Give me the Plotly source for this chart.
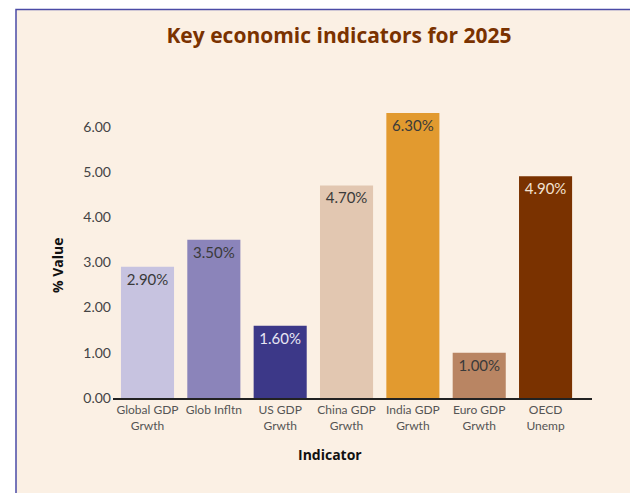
import plotly.graph_objects as go

categories = ["Global GDP<br>Grwth", "Glob Infltn", "US GDP<br>Grwth", "China GDP<br>Grwth",
              "India GDP<br>Grwth", "Euro GDP<br>Grwth", "OECD<br>Unemp"]
values = [2.90, 3.50, 1.60, 4.70, 6.30, 1.00, 4.90]
bar_colors = ["#c7c3e0", "#8b84ba", "#3c3888", "#e2c7b1", "#e29a2f", "#b98563", "#7a3200"]
label_colors = ["#3a3a3a", "#3a3a3a", "#e8e6f4", "#3a3a3a", "#3a3a3a", "#3a3a3a", "#f3e2d2"]
y_ticks = [0, 1, 2, 3, 4, 5, 6]

FONT = "Open Sans, Noto Sans, sans-serif"
TICKFONT = "Lato, Open Sans, sans-serif"

W, H = 630, 493
L, R = 113, 630 - 592
T, B = 104, 493 - 398
pw, ph = W - L - R, H - T - B

def px(x):
    return (x - L) / pw

def py(y):
    return (H - B - y) / ph

fig = go.Figure(go.Bar(
    x=list(range(len(categories))),
    y=values,
    marker=dict(color=bar_colors, line=dict(width=0)),
    text=[f"{v:.2f}%" for v in values],
    textposition="inside",
    insidetextanchor="end",
    textangle=0,
    textfont=dict(family=TICKFONT, size=15, color=label_colors),
    width=0.8,
))

fig.add_shape(type="rect", xref="paper", yref="paper",
              x0=px(16), x1=px(645), y0=py(510), y1=py(9.5),
              fillcolor="#fbf0e4", line=dict(color="#4b4ba6", width=1.5), layer="below")

fig.add_annotation(text="<b>% Value</b>", xref="paper", yref="paper",
                   x=px(57), y=py(265), textangle=-90, showarrow=False,
                   xanchor="center", yanchor="middle",
                   font=dict(family=FONT, size=14, color="#111111"))
fig.add_annotation(text="<b>Indicator</b>", xref="paper", yref="paper",
                   x=px(330), y=py(455), showarrow=False,
                   xanchor="center", yanchor="middle",
                   font=dict(family=FONT, size=14, color="#111111"))

fig.update_layout(
    width=W, height=H,
    margin=dict(l=L, r=R, t=T, b=B, pad=0),
    paper_bgcolor="#ffffff",
    plot_bgcolor="rgba(0,0,0,0)",
    showlegend=False,
    title=dict(text="<b>Key economic indicators for 2025</b>", x=339 / W,
               y=1 - 36 / H, xanchor="center", yanchor="middle",
               font=dict(family=FONT, size=21, color="#7a3200")),
    xaxis=dict(
        range=[-0.52, 6.70],
        tickmode="array", tickvals=list(range(len(categories))), ticktext=categories,
        showline=True, linecolor="#222222", linewidth=1.5,
        showgrid=False, zeroline=False, ticks="",
        tickfont=dict(family=TICKFONT, size=12, color="#555555"),
    ),
    yaxis=dict(
        range=[0, 6.5],
        tickmode="array", tickvals=y_ticks, ticktext=[f"{t:.2f}" for t in y_ticks],
        showline=False, showgrid=False, zeroline=False, ticks="",
        ticklabelstandoff=1,
        tickfont=dict(family=TICKFONT, size=14, color="#444444"),
    ),
)

fig.write_html("out.html", config={"displayModeBar": False},
               post_script="document.body.style.margin='0';document.body.style.overflow='hidden';")
